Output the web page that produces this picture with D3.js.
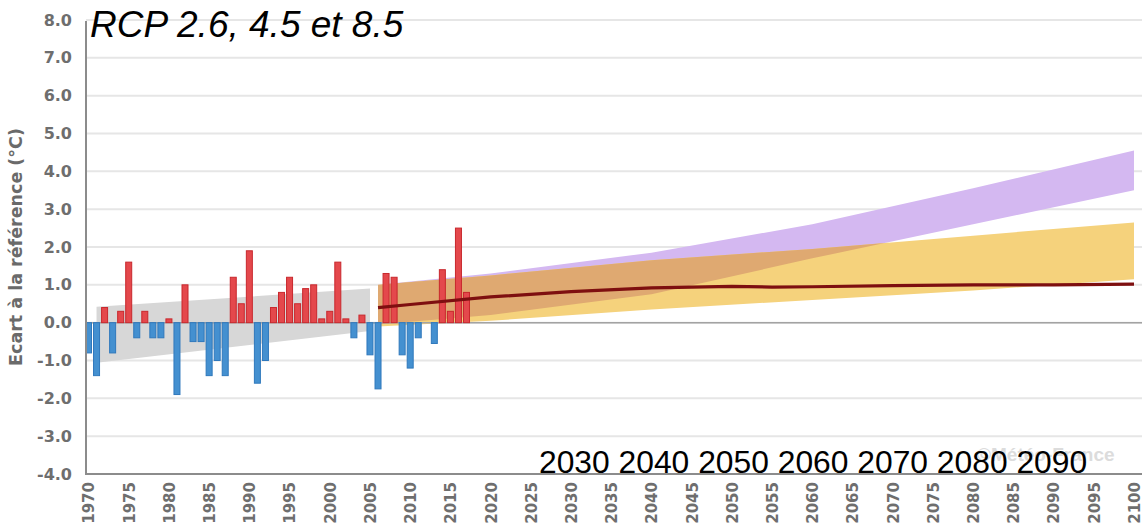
<!DOCTYPE html>
<html>
<head>
<meta charset="utf-8">
<script src="https://cdn.jsdelivr.net/npm/d3@7"></script>
<style>
  body { margin: 0; background: #fff; }
  svg { display: block; }
  .tick text { font-family: "DejaVu Sans", sans-serif; font-weight: bold; fill: #6e6e6e; }
</style>
</head>
<body>
<svg width="1142" height="530"></svg>
<script>
// **** Data ****

// observed yearly anomalies (°C)
var obsYears = [1970,1971,1972,1973,1974,1975,1976,1977,1978,1979,
                1980,1981,1982,1983,1984,1985,1986,1987,1988,1989,
                1990,1991,1992,1993,1994,1995,1996,1997,1998,1999,
                2000,2001,2002,2003,2004,2005,2006,2007,2008,2009,
                2010,2011,2012,2013,2014,2015,2016,2017];
var anomalies = [-0.8,-1.4,0.4,-0.8,0.3,1.6,-0.4,0.3,-0.4,-0.4,
                 0.1,-1.9,1.0,-0.5,-0.5,-1.4,-1.0,-1.4,1.2,0.5,
                 1.9,-1.6,-1.0,0.4,0.8,1.2,0.5,0.9,1.0,0.1,
                 0.3,1.6,0.1,-0.4,0.2,-0.85,-1.75,1.3,1.2,-0.85,
                 -1.2,-0.4,0.0,-0.55,1.4,0.3,2.5,0.8];

// grey reference band
var refYears = [1971, 2005];
var refLow = [-1.06, -0.22];
var refHigh = [0.42, 0.9];

// projection bands
var projYears = [2006, 2020, 2040, 2060, 2080, 2100];
var yellowLow = [-0.1, 0.05, 0.35, 0.6, 0.85, 1.15];
var yellowHigh = [1.0, 1.25, 1.65, 1.95, 2.3, 2.65];
var purpleLow = [-0.05, 0.2, 0.75, 1.7, 2.6, 3.5];
var purpleHigh = [1.0, 1.3, 1.85, 2.6, 3.55, 4.55];

// median projection line
var medYears = [2006, 2010, 2020, 2030, 2040, 2050, 2055, 2060, 2070, 2080, 2090, 2100];
var medVals = [0.4, 0.48, 0.68, 0.82, 0.92, 0.96, 0.94, 0.95, 0.98, 1.0, 1.0, 1.02];

// ticks
var xTicks = [1970,1975,1980,1985,1990,1995,2000,2005,2010,2015,2020,2025,2030,
              2035,2040,2045,2050,2055,2060,2065,2070,2075,2080,2085,2090,2095,2100];
var yTicks = [-4,-3,-2,-1,0,1,2,3,4,5,6,7,8];
var overlayTicks = ["2030","2040","2050","2060","2070","2080","2090"];

var titleText = "RCP 2.6, 4.5 et 8.5";
var yLabel = "Ecart à la référence (°C)";
var watermark = "©Météo-France";

// **** Scales ****

var x = d3.scaleLinear().domain([1970, 2100]).range([88.5, 1134]);
var y = d3.scaleLinear().domain([-4, 8]).range([474, 20]);

var svg = d3.select('svg');
var plotLeft = 86, plotRight = 1142;

// gridlines
svg.append('g').selectAll('line')
    .data(yTicks)
    .enter()
    .append('line')
    .attr('x1', plotLeft).attr('x2', plotRight)
    .attr('y1', function(d){ return y(d); })
    .attr('y2', function(d){ return y(d); })
    .style('stroke', '#e6e6e6')
    .style('stroke-width', 2);

// **** Bands ****

function zip(xs, lo, hi) {
    return xs.map(function(d, i){ return {year: d, lo: lo[i], hi: hi[i]}; });
}

var band = d3.area()
    .x(function(d){ return x(d.year); })
    .y0(function(d){ return y(d.lo); })
    .y1(function(d){ return y(d.hi); });

svg.append('path')
    .attr('d', band(zip(refYears, refLow, refHigh)))
    .style('fill', '#d7d7d7');

var purple = zip(projYears, purpleLow, purpleHigh);
var yellow = zip(projYears, yellowLow, yellowHigh);

svg.append('defs').append('clipPath').attr('id', 'purpleClip')
    .append('path').attr('d', band(purple));

svg.append('path').attr('d', band(purple)).style('fill', '#d4b8f1');
svg.append('path').attr('d', band(yellow)).style('fill', '#f5d27c');
// overlap of the two bands
svg.append('path').attr('d', band(yellow))
    .attr('clip-path', 'url(#purpleClip)')
    .style('fill', '#dfa971');

// zero line
svg.append('line')
    .attr('x1', plotLeft).attr('x2', plotRight)
    .attr('y1', y(0)).attr('y2', y(0))
    .style('stroke', '#a3a3a3')
    .style('stroke-width', 1.5);

// **** Bars ****

var obs = obsYears.map(function(d, i){ return {year: d, value: anomalies[i]}; });

svg.append('g').selectAll('rect')
    .data(obs)
    .enter()
    .append('rect')
    .attr('x', function(d){ return x(d.year) - 3; })
    .attr('width', 6)
    .attr('y', function(d){ return y(Math.max(0, d.value)); })
    .attr('height', function(d){ return Math.abs(y(d.value) - y(0)); })
    .style('fill', function(d){ return d.value >= 0 ? '#e4484c' : '#4490d0'; })
    .style('stroke', function(d){ return d.value >= 0 ? '#c8282d' : '#2f78bc'; })
    .style('stroke-width', 1);

// **** Median line ****

var med = medYears.map(function(d, i){ return {year: d, value: medVals[i]}; });
svg.append('path')
    .datum(med)
    .attr('d', d3.line()
        .x(function(d){ return x(d.year); })
        .y(function(d){ return y(d.value); }))
    .style('fill', 'none')
    .style('stroke', '#7e0f10')
    .style('stroke-width', 3.2);

// **** Axes ****

var yAxis = svg.append('g')
    .attr('transform', 'translate(' + plotLeft + ',0)')
    .call(d3.axisLeft(y).tickValues(yTicks).tickSize(0).tickPadding(14)
        .tickFormat(function(d){ return d.toFixed(1); }));
yAxis.select('.domain').remove();
yAxis.selectAll('text').style('font-size', '16px');

var xAxis = svg.append('g')
    .attr('transform', 'translate(0,474)')
    .call(d3.axisBottom(x).tickValues(xTicks).tickSize(0).tickFormat(function(d){ return String(d); }));
xAxis.select('.domain').remove();
xAxis.selectAll('text')
    .attr('transform', 'rotate(-90)')
    .attr('x', -8)
    .attr('y', 0)
    .attr('dy', '0.36em')
    .style('text-anchor', 'end')
    .style('font-size', '15px');

// axis lines
svg.append('line')
    .attr('x1', plotLeft).attr('x2', plotLeft)
    .attr('y1', 21).attr('y2', 475)
    .style('stroke', '#8c8c8c').style('stroke-width', 2);
svg.append('line')
    .attr('x1', plotLeft).attr('x2', plotRight)
    .attr('y1', 474).attr('y2', 474)
    .style('stroke', '#8c8c8c').style('stroke-width', 2);

// y-axis label
svg.append('text')
    .attr('transform', 'translate(22,247) rotate(-90)')
    .style('text-anchor', 'middle')
    .style('font-family', '"DejaVu Sans", sans-serif')
    .style('font-weight', 'bold')
    .style('font-size', '17.5px')
    .style('fill', '#6a6a6a')
    .text(yLabel);

// watermark
svg.append('text')
    .attr('x', 977).attr('y', 461)
    .style('font-family', '"Liberation Sans", Arial, sans-serif')
    .style('font-weight', 'bold')
    .style('font-size', '19px')
    .style('fill', '#dcdcdc')
    .text(watermark);

// overlaid decade labels
svg.append('text')
    .attr('x', 539).attr('y', 473)
    .style('font-family', '"Liberation Sans", Arial, sans-serif')
    .style('font-size', '31.8px')
    .style('fill', '#000')
    .text(overlayTicks.join(' '));

// title
svg.append('text')
    .attr('x', 90).attr('y', 37)
    .style('font-family', '"Liberation Sans", Arial, sans-serif')
    .style('font-style', 'italic')
    .style('font-size', '37px')
    .style('fill', '#000')
    .text(titleText);
</script>
</body>
</html>
